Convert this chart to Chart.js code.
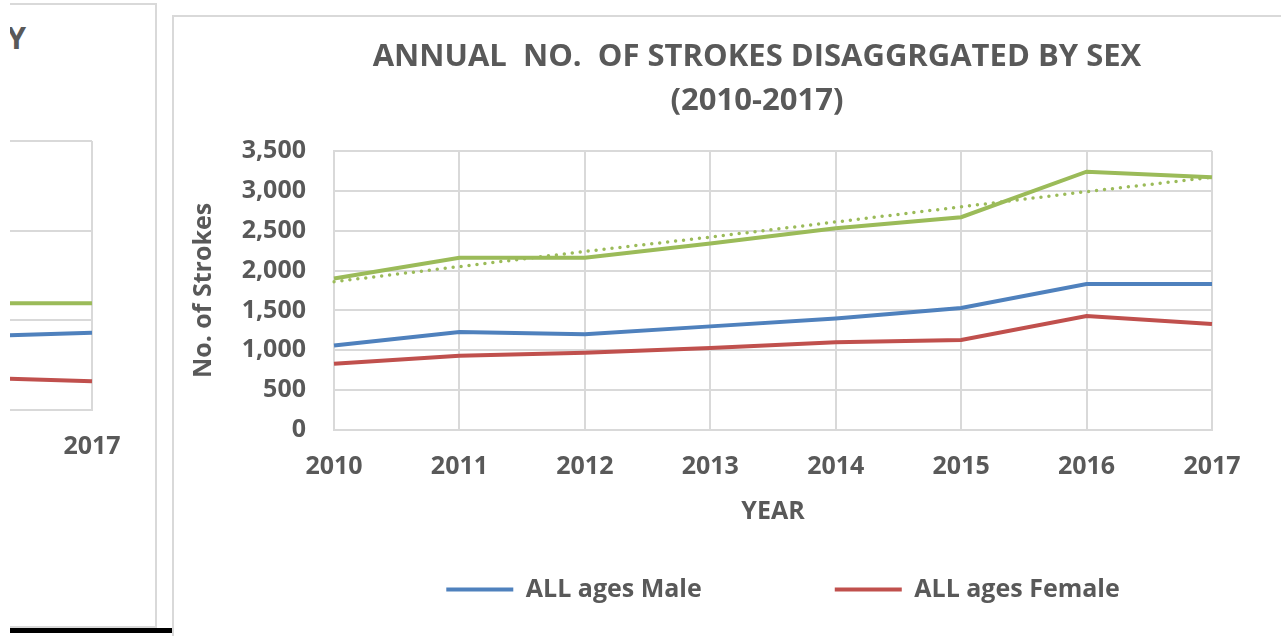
<!DOCTYPE html>
<html>
<head>
<meta charset="utf-8">
<script src="https://cdn.jsdelivr.net/npm/chart.js@4.4.0/dist/chart.umd.min.js"></script>
<style>
  html, body { margin: 0; padding: 0; background: #fff; }
  body { width: 1281px; height: 636px; overflow: hidden; position: relative; font-family: "Open Sans", sans-serif; }
  #leftPanel { position: absolute; left: 10px; top: 3px; width: 147px; height: 625px; box-sizing: border-box;
    border-top: 2px solid #d9d9d9; border-right: 2px solid #d9d9d9; border-bottom: 2px solid #d9d9d9; overflow: hidden; }
  #leftTitle { position: absolute; right: 129px; top: 10px; font: bold 31px "Open Sans"; line-height: 44px; color: #595959; white-space: nowrap; }
  #leftChart { position: absolute; left: -158px; top: 0; }
  #edge { position: absolute; left: 10px; top: 628px; width: 162px; height: 5px; background: #000; }
  #mainPanel { position: absolute; left: 172px; top: 15px; width: 1200px; height: 700px;
    border-left: 2px solid #d9d9d9; border-top: 2px solid #d9d9d9; }
  #strokeChart { position: absolute; left: 0; top: 0; }
</style>
</head>
<body>
<div id="leftPanel">
  <div id="leftTitle">BY</div>
  <canvas id="leftChart" width="300" height="500"></canvas>
</div>
<div id="edge"></div>
<div id="mainPanel">
  <canvas id="strokeChart" width="1166" height="619"></canvas>
</div>
<script>
// main chart data
var years = ['2010', '2011', '2012', '2013', '2014', '2015', '2016', '2017'];
var maleStrokes = [1060, 1230, 1200, 1300, 1400, 1530, 1830, 1830];
var femaleStrokes = [830, 930, 970, 1030, 1100, 1130, 1430, 1330];
var totalStrokes = [1900, 2160, 2160, 2340, 2530, 2670, 3240, 3170];
var totalTrend = [1860, 2050, 2240, 2420, 2610, 2800, 2990, 3170];
var strokeTicks = [0, 500, 1000, 1500, 2000, 2500, 3000, 3500];

// neighbouring chart, only its last year shows
var leftYears = ['2016', '2017'];
var leftMale = [399, 431];
var leftFemale = [192, 160];
var leftTotal = [595, 595];
var leftTicks = [0, 500, 1000, 1500];

var grey = '#595959';
var gridGrey = '#d9d9d9';
var blue = '#4f81bd';
var red = '#c0504d';
var green = '#9bbb59';
var fontName = 'Open Sans';

// legend gap is wide, so pull the row back up and over after layout
// (bottom stays put, the legend clips to its own box)
var legendNudge = {
    id: 'legendNudge',
    afterLayout: function(chart) {
        var lg = chart.legend;
        lg.top -= 86;
        lg.left += 26;
        lg.right += 26;
    }
};

new Chart(document.getElementById('strokeChart'), {
    type: 'line',
    data: {
        labels: years,
        datasets: [
            { label: 'ALL ages Male', data: maleStrokes, borderColor: blue, backgroundColor: blue, borderWidth: 4 },
            { label: 'ALL ages Female', data: femaleStrokes, borderColor: red, backgroundColor: red, borderWidth: 4 },
            { label: 'ALL ages Total', data: totalStrokes, borderColor: green, backgroundColor: green, borderWidth: 4 },
            { label: 'Linear (ALL ages Total)', data: totalTrend, borderColor: green, borderWidth: 3.5,
              borderDash: [0, 8], borderCapStyle: 'round' }
        ]
    },
    options: {
        responsive: false,
        animation: false,
        layout: { padding: 0 },
        elements: { point: { radius: 0 }, line: { tension: 0 } },
        plugins: {
            title: {
                display: true,
                text: ['ANNUAL  NO.  OF STROKES DISAGGRGATED BY SEX', '(2010-2017)'],
                color: grey,
                font: { family: fontName, size: 31, weight: 'bold', lineHeight: 44 / 31 },
                padding: { top: 18, bottom: 28 }
            },
            legend: {
                position: 'bottom',
                maxHeight: 106,
                labels: {
                    color: grey,
                    font: { family: fontName, size: 25, weight: 'bold' },
                    boxWidth: 67,
                    boxHeight: 0,
                    padding: 133,
                    filter: function(item) { return item.datasetIndex < 2; }
                }
            },
            tooltip: { enabled: false }
        },
        scales: {
            x: {
                offset: false,
                grid: { color: gridGrey, lineWidth: 2, drawTicks: false },
                border: { color: gridGrey, width: 2 },
                ticks: { color: grey, font: { family: fontName, size: 25, weight: 'bold' }, padding: 22, maxRotation: 0, autoSkip: false },
                title: { display: true, text: 'YEAR', color: grey, font: { family: fontName, size: 25, weight: 'bold' }, padding: { top: 0, bottom: 3 } },
                afterFit: function(s) { s.height = 100; }
            },
            y: {
                min: strokeTicks[0],
                max: strokeTicks[strokeTicks.length - 1],
                grid: { color: gridGrey, lineWidth: 2, drawTicks: false },
                border: { color: gridGrey, width: 2 },
                ticks: {
                    stepSize: strokeTicks[1] - strokeTicks[0],
                    color: grey,
                    padding: 28,
                    font: { family: fontName, size: 25, weight: 'bold' },
                    callback: function(v) { return v.toLocaleString('en-US'); }
                },
                title: { display: true, text: 'No. of Strokes', color: grey, font: { family: fontName, size: 25, weight: 'bold' }, padding: { top: 15, bottom: 0 } },
                afterFit: function(s) { s.width = 160; }
            },
            // empty space right of the plot, the chart object is wider than the shot
            yR: {
                type: 'linear',
                position: 'right',
                grid: { display: false },
                border: { display: false },
                ticks: { display: false },
                afterFit: function(s) { s.width = 128; }
            }
        }
    },
    plugins: [legendNudge]
});

new Chart(document.getElementById('leftChart'), {
    type: 'line',
    data: {
        labels: leftYears,
        datasets: [
            { label: 'Male', data: leftMale, borderColor: blue, borderWidth: 4 },
            { label: 'Female', data: leftFemale, borderColor: red, borderWidth: 4 },
            { label: 'Total', data: leftTotal, borderColor: green, borderWidth: 4 }
        ]
    },
    options: {
        responsive: false,
        animation: false,
        layout: { padding: { left: 40, right: 60, top: 136, bottom: 43 } },
        elements: { point: { radius: 0 } },
        plugins: { legend: { display: false }, tooltip: { enabled: false } },
        scales: {
            x: {
                offset: false,
                grid: { color: gridGrey, lineWidth: 2, drawTicks: false },
                border: { color: gridGrey, width: 2 },
                ticks: { color: grey, font: { family: fontName, size: 25, weight: 'bold' }, padding: 22, maxRotation: 0 },
                afterFit: function(s) { s.height = 52; }
            },
            y: {
                min: leftTicks[0],
                max: leftTicks[leftTicks.length - 1],
                grid: { color: gridGrey, lineWidth: 2, drawTicks: false },
                border: { color: gridGrey, width: 2 },
                ticks: { display: false, stepSize: leftTicks[1] - leftTicks[0] },
                afterFit: function(s) { s.width = 0; }
            }
        }
    }
});
</script>
</body>
</html>
